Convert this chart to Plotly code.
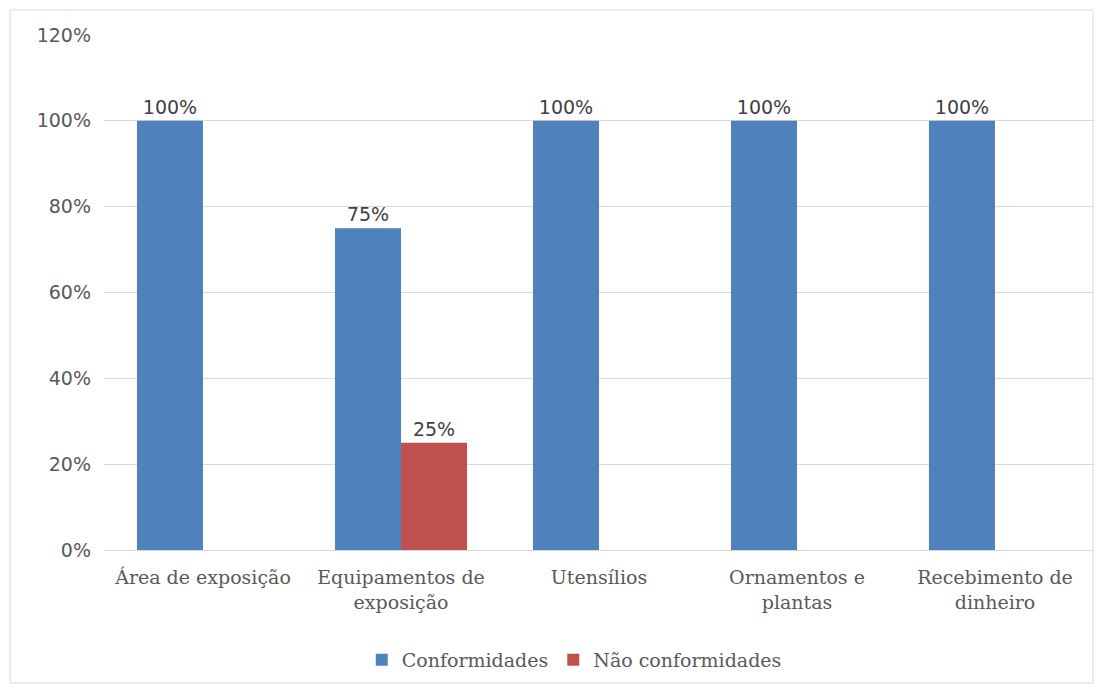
import plotly.graph_objects as go

categories = ["Área de exposição", "Equipamentos de<br>exposição", "Utensílios",
              "Ornamentos e<br>plantas", "Recebimento de<br>dinheiro"]
conformidades = [1.00, 0.75, 1.00, 1.00, 1.00]
nao_conformidades = [0.00, 0.25, 0.00, 0.00, 0.00]
y_ticks = [0, 0.2, 0.4, 0.6, 0.8, 1.0, 1.2]
y_tick_labels = ["0%", "20%", "40%", "60%", "80%", "100%", "120%"]

def labels(vals):
    return [f"{v:.0%}" if v > 0 else "" for v in vals]

W, H = 1103, 689
ml, mr, mt, mb = 104, 9, 35, 139

fig = go.Figure()
fig.add_trace(go.Bar(
    x=categories, y=conformidades, name="Conformidades",
    marker=dict(color="#4f81bd", line=dict(width=0)),
    text=labels(conformidades), textposition="outside", cliponaxis=False,
    textfont=dict(family="DejaVu Sans", size=19, color="#404040"),
))
fig.add_trace(go.Bar(
    x=categories, y=nao_conformidades, name="Não conformidades",
    marker=dict(color="#c0504d", line=dict(width=0)),
    text=labels(nao_conformidades), textposition="outside", cliponaxis=False,
    textfont=dict(family="DejaVu Sans", size=19, color="#404040"),
))

pw = W - ml - mr
ph = H - mt - mb
fig.add_shape(type="rect", xref="paper", yref="paper",
              x0=(10 - ml) / pw, x1=(1093 - ml) / pw,
              y0=-(683 - (H - mb)) / ph, y1=1 + (mt - 10) / ph,
              line=dict(color="#d9d9d9", width=1), layer="below")

fig.update_layout(
    width=W, height=H,
    margin=dict(l=ml, r=mr, t=mt, b=mb),
    paper_bgcolor="white", plot_bgcolor="white",
    barmode="group", bargap=0.333, bargroupgap=0,
    uniformtext=dict(mode=False),
    legend=dict(orientation="h", x=0.475, xanchor="center",
                y=-(660 - (H - mb)) / ph, yanchor="middle",
                font=dict(family="DejaVu Serif", size=19, color="#595959"),
                itemwidth=30, traceorder="normal"),
    xaxis=dict(showline=True, linecolor="#d9d9d9", linewidth=1, ticks="",
               ticklabelstandoff=10,
               tickfont=dict(family="DejaVu Serif", size=19, color="#595959")),
    yaxis=dict(range=[0, 1.2], tickvals=y_ticks, ticktext=y_tick_labels,
               showgrid=True, gridcolor="#d9d9d9", gridwidth=1, zeroline=False,
               ticks="", ticklabelstandoff=12,
               tickfont=dict(family="DejaVu Sans", size=19, color="#595959")),
)

fig.write_html("out.html")
